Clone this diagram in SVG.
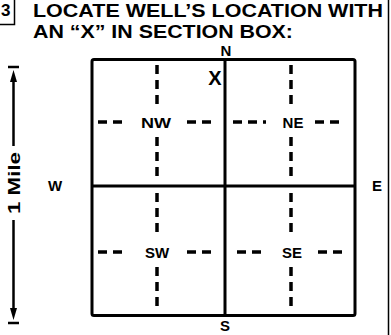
<svg xmlns="http://www.w3.org/2000/svg" width="391" height="335" viewBox="0 0 391 335">
<style>
.t{font-family:"Liberation Sans",Arial,sans-serif;font-weight:bold;fill:#000}
.lbl{font-family:"Liberation Sans",Arial,sans-serif;font-weight:bold;font-size:15px;fill:#000;text-anchor:middle}
.box{fill:none;stroke:#000;stroke-width:3}
.dash{stroke:#000;stroke-width:3.5;stroke-dasharray:9 6;fill:none}
</style>
<rect width="391" height="335" fill="#fff"/>
<g id="title">
<path d="M0 24.5 H14.5 V0" fill="none" stroke="#000" stroke-width="1.5"/>
<text class="t" x="1" y="16" font-size="17">3</text>
<text class="t" x="33" y="17" font-size="18.5" textLength="350" lengthAdjust="spacingAndGlyphs">LOCATE WELL’S LOCATION WITH</text>
<text class="t" x="33" y="38" font-size="18.5" textLength="260" lengthAdjust="spacingAndGlyphs">AN “X” IN SECTION BOX:</text>
</g>
<line x1="388.5" y1="0" x2="388.5" y2="335" stroke="#000" stroke-width="1.5"/>
<g id="scale">
<line x1="8" y1="67" x2="19" y2="67" stroke="#000" stroke-width="2.5"/>
<line x1="13.5" y1="76" x2="13.5" y2="146" stroke="#000" stroke-width="2.5"/>
<path d="M13.5 70 L17 82 L10 82 Z" fill="#000"/>
<line x1="13.5" y1="220" x2="13.5" y2="313" stroke="#000" stroke-width="2.5"/>
<path d="M13.5 320 L17 308 L10 308 Z" fill="#000"/>
<line x1="8" y1="323" x2="19" y2="323" stroke="#000" stroke-width="2.5"/>
<text class="t" font-size="17" text-anchor="middle" textLength="62" lengthAdjust="spacingAndGlyphs" transform="translate(20,183) rotate(-90)">1 Mile</text>
</g>
<g id="section">
<rect class="box" x="92" y="59.5" width="263" height="256" rx="2"/>
<line x1="225" y1="59.5" x2="225" y2="315.5" stroke="#000" stroke-width="3"/>
<line x1="92" y1="186" x2="355" y2="186" stroke="#000" stroke-width="3"/>
</g>
<g id="NW">
<line class="dash" x1="157" y1="65" x2="157" y2="107"/>
<line class="dash" x1="157" y1="137" x2="157" y2="179"/>
<line class="dash" x1="98" y1="122" x2="122" y2="122"/>
<line class="dash" x1="187" y1="122" x2="217" y2="122"/>
<text class="lbl" x="156" y="127.5" textLength="30" lengthAdjust="spacingAndGlyphs">NW</text>
</g>
<g id="NE">
<line class="dash" x1="291" y1="65" x2="291" y2="107"/>
<line class="dash" x1="291" y1="137" x2="291" y2="179"/>
<line class="dash" x1="233" y1="122" x2="266" y2="122"/>
<line class="dash" x1="315" y1="122" x2="345" y2="122"/>
<text class="lbl" x="293" y="127.5">NE</text>
</g>
<g id="SW">
<line class="dash" x1="157" y1="193" x2="157" y2="236"/>
<line class="dash" x1="157" y1="267" x2="157" y2="309"/>
<line class="dash" x1="98" y1="252" x2="122" y2="252"/>
<line class="dash" x1="187" y1="252" x2="217" y2="252"/>
<text class="lbl" x="157" y="257.5">SW</text>
</g>
<g id="SE">
<line class="dash" x1="291" y1="193" x2="291" y2="236"/>
<line class="dash" x1="291" y1="267" x2="291" y2="309"/>
<line class="dash" x1="237" y1="252" x2="267" y2="252"/>
<line class="dash" x1="318" y1="252" x2="345" y2="252"/>
<text class="lbl" x="292" y="257.5">SE</text>
</g>
<g id="compass">
<text class="lbl" x="226" y="55.5" font-size="12.5">N</text>
<text class="lbl" x="225" y="331" font-size="13">S</text>
<text class="lbl" x="55" y="191" font-size="14">W</text>
<text class="lbl" x="377" y="191" font-size="14">E</text>
</g>
<g id="well">
<text class="t" x="215" y="85" font-size="20" text-anchor="middle">X</text>
</g>
</svg>
